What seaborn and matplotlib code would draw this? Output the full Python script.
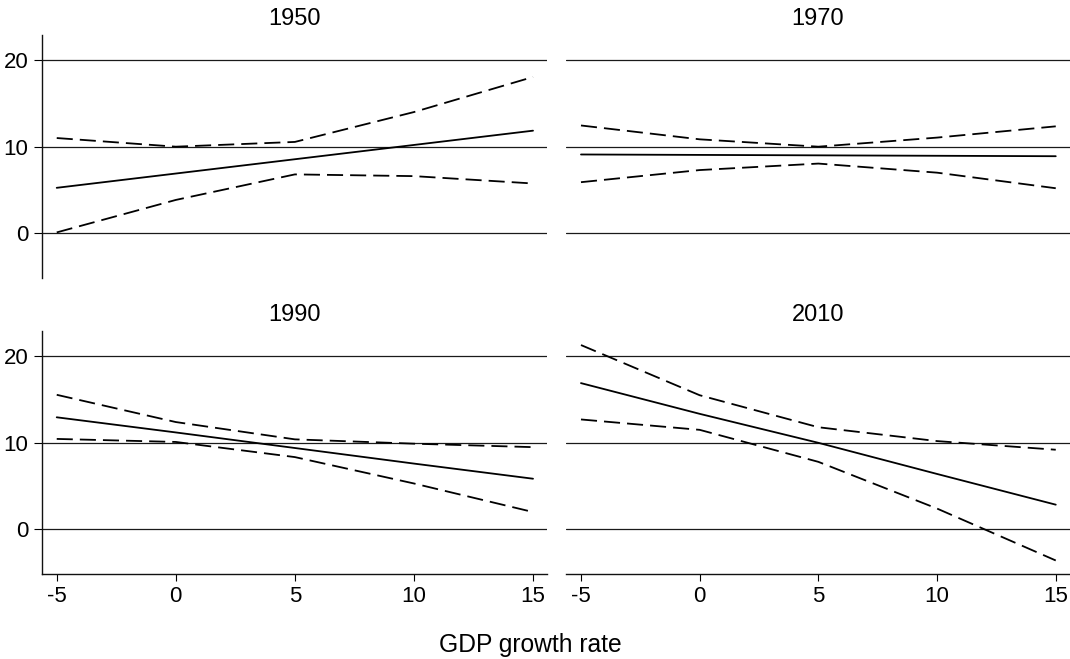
import matplotlib
matplotlib.use("Agg")
import matplotlib.pyplot as plt
import seaborn as sns
import pandas as pd

# GDP growth rate grid (x axis)
gdp = [-5, 0, 5, 10, 15]
years = ["1950", "1970", "1990", "2010"]

# point estimates and confidence bounds, per year
est_1950 = [5.25, 6.9, 8.55, 10.2, 11.85]
upp_1950 = [11.0, 10.0, 10.55, 14.0, 18.05]
low_1950 = [0.1, 3.85, 6.8, 6.6, 5.75]

est_1970 = [9.1, 9.05, 9.0, 8.95, 8.9]
upp_1970 = [12.45, 10.85, 10.0, 11.05, 12.35]
low_1970 = [5.9, 7.3, 8.05, 7.0, 5.2]

est_1990 = [12.95, 11.2, 9.4, 7.6, 5.85]
upp_1990 = [15.55, 12.4, 10.4, 9.9, 9.5]
low_1990 = [10.45, 10.1, 8.35, 5.3, 2.0]

est_2010 = [16.9, 13.35, 10.0, 6.4, 2.85]
upp_2010 = [21.3, 15.5, 11.8, 10.2, 9.2]
low_2010 = [12.7, 11.5, 7.8, 2.4, -3.6]

series = {
    "1950": (est_1950, upp_1950, low_1950),
    "1970": (est_1970, upp_1970, low_1970),
    "1990": (est_1990, upp_1990, low_1990),
    "2010": (est_2010, upp_2010, low_2010),
}

rows = []
for yr, (est, upp, low) in series.items():
    for band, vals in [("estimate", est), ("upper", upp), ("lower", low)]:
        for x, v in zip(gdp, vals):
            rows.append({"year": yr, "gdp": x, "value": v, "band": band})
df = pd.DataFrame(rows)

sns.set_style("white")
plt.rcParams["font.family"] = ["Liberation Sans", "DejaVu Sans"]
plt.rcParams["axes.unicode_minus"] = False
plt.rcParams["text.color"] = "black"
plt.rcParams["xtick.color"] = "black"
plt.rcParams["ytick.color"] = "black"
plt.rcParams["axes.labelcolor"] = "black"

dash = (8.9, 3.9)
g = sns.relplot(
    data=df, x="gdp", y="value", col="year", col_wrap=2, col_order=years,
    kind="line", style="band", style_order=["estimate", "upper", "lower"],
    dashes={"estimate": "", "upper": dash, "lower": dash},
    color="black", linewidth=1.3, estimator=None, errorbar=None,
    legend=False, facet_kws=dict(sharex=True, sharey=True),
)
g.fig.set_size_inches(10.7, 6.59)
g.set_titles("{col_name}", size=17, pad=7, color="black")
g.set_axis_labels("", "")

# panel positions in figure fractions
positions = [
    [0.039, 0.5777, 0.4725, 0.3692],
    [0.529, 0.5777, 0.471, 0.3692],
    [0.039, 0.1285, 0.4725, 0.3689],
    [0.529, 0.1285, 0.471, 0.3689],
]

for i, ax in enumerate(g.axes.flat):
    ax.set_position(positions[i])
    ax.set_xlim(-5.63, 15.6)
    ax.set_ylim(-5.2, 22.9)
    ax.set_xticks(gdp)
    ax.set_yticks([0, 10, 20])
    for yv in [0, 10, 20]:
        ax.axhline(yv, color="#1a1a1a", lw=0.9, zorder=0)
    for s in ["top", "right"]:
        ax.spines[s].set_visible(False)
    left_col = i % 2 == 0
    bottom_row = i >= 2
    ax.spines["left"].set_visible(left_col)
    ax.spines["bottom"].set_visible(bottom_row)
    for s in ["left", "bottom"]:
        ax.spines[s].set_color("#111111")
        ax.spines[s].set_linewidth(1.0)
    ax.tick_params(axis="y", labelsize=16, length=5.5 if left_col else 0,
                   width=0.8, pad=4, labelleft=left_col, left=left_col)
    ax.tick_params(axis="x", labelsize=16, length=5 if bottom_row else 0,
                   width=0.8, pad=3.5, labelbottom=bottom_row, bottom=bottom_row)

g.fig.text(0.496, 0.0106, "GDP growth rate", ha="center", va="baseline", fontsize=17.7)

g.fig.savefig("out.png", dpi=100)
